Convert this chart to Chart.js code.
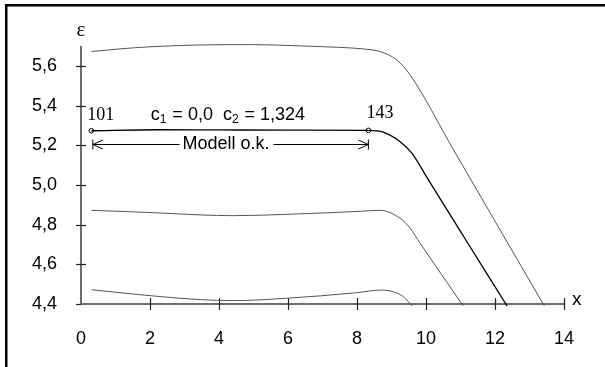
<!DOCTYPE html>
<html>
<head>
<meta charset="utf-8">
<script src="https://cdn.jsdelivr.net/npm/chart.js@4.4.1/dist/chart.umd.min.js"></script>
<style>
  html, body { margin: 0; padding: 0; background: #fff; }
  canvas { display: block; }
</style>
</head>
<body>
<canvas id="chart" width="605" height="367"></canvas>
<script>
'use strict';

// curve values (x, epsilon)
var topX = [0.3, 1.1, 2.0, 3.4, 5.0, 6.4, 7.5, 8.2, 8.67, 9.15, 9.54, 10.8, 13.43];
var topY = [5.672, 5.685, 5.696, 5.705, 5.707, 5.700, 5.693, 5.685, 5.672, 5.630, 5.554, 5.176, 4.39];

var modelX = [0.3, 2.2, 4.0, 6.0, 8.33, 8.76, 9.25, 9.59, 10.07, 11.2, 12.35];
var modelY = [5.273, 5.278, 5.277, 5.276, 5.275, 5.266, 5.218, 5.160, 5.025, 4.71, 4.39];

var midX = [0.3, 2.0, 3.45, 4.41, 6.0, 8.09, 8.67, 9.25, 9.54, 9.83, 11.08];
var midY = [4.872, 4.861, 4.849, 4.845, 4.852, 4.867, 4.872, 4.832, 4.782, 4.706, 4.39];

var lowX = [0.3, 2.0, 3.45, 4.41, 5.96, 7.99, 8.67, 9.05, 9.34, 9.6];
var lowY = [4.472, 4.442, 4.422, 4.417, 4.429, 4.457, 4.470, 4.462, 4.437, 4.39];

// model range end points (101 .. 143)
var markX = [0.3, 8.33];
var markY = [5.273, 5.275];
var markLabels = ['101', '143'];

var xTicks = [0, 2, 4, 6, 8, 10, 12, 14];
var yTicks = [4.4, 4.6, 4.8, 5.0, 5.2, 5.4, 5.6];

var SANS = '"Liberation Sans", Arial, sans-serif';
var SERIF = '"Liberation Serif", "Times New Roman", serif';

function pts(xs, ys) {
    return xs.map((x, i) => ({x: x, y: ys[i]}));
}

function curve(xs, ys, color, width) {
    return {
        data: pts(xs, ys),
        showLine: true,
        borderColor: color,
        borderWidth: width,
        pointRadius: 0,
        cubicInterpolationMode: 'monotone',
        clip: false
    };
}

function line(ctx, x1, y1, x2, y2) {
    ctx.beginPath();
    ctx.moveTo(x1, y1);
    ctx.lineTo(x2, y2);
    ctx.stroke();
}

// axes with crossing tick marks, drawn from the chart's scales
var axesPlugin = {
    id: 'axes',
    beforeDatasetsDraw(chart) {
        var ctx = chart.ctx;
        var xs = chart.scales.x, ys = chart.scales.y;
        var x0 = xs.getPixelForValue(0), y0 = ys.getPixelForValue(4.4);
        ctx.save();
        ctx.strokeStyle = '#6e6e6e';
        ctx.lineWidth = 2;
        line(ctx, x0, ys.getPixelForValue(5.7), x0, y0);
        line(ctx, x0, y0, xs.getPixelForValue(14), y0);
        ctx.strokeStyle = '#222';
        ctx.lineWidth = 1.2;
        yTicks.forEach(v => {
            var p = Math.round(ys.getPixelForValue(v)) + 0.5;
            line(ctx, x0 - 5, p, v === 4.4 ? x0 : x0 + 5, p);
        });
        xTicks.forEach(v => {
            if (v === 0) return;
            var p = Math.round(xs.getPixelForValue(v)) + 0.5;
            line(ctx, p, y0 - 6, p, y0 + 6);
        });
        ctx.restore();
    },
    afterDraw(chart) {
        var ctx = chart.ctx;
        var xs = chart.scales.x, ys = chart.scales.y;
        var X = v => xs.getPixelForValue(v), Y = v => ys.getPixelForValue(v);
        ctx.save();
        ctx.fillStyle = '#000';
        ctx.strokeStyle = '#000';

        // frame
        ctx.fillRect(5, 4, 600, 2.5);
        ctx.fillRect(5, 4, 2.5, 363);

        // axis titles
        ctx.font = '21px ' + SERIF;
        ctx.textAlign = 'center';
        ctx.textBaseline = 'alphabetic';
        ctx.fillText('\u03b5', X(0), 36);
        ctx.font = '19px ' + SANS;
        ctx.textAlign = 'left';
        ctx.fillText('x', X(14) + 8, Y(4.4) + 1);

        // point numbers
        ctx.font = '18px ' + SERIF;
        ctx.fillText(markLabels[0], X(markX[0]) - 4, Y(markY[0]) - 11);
        ctx.fillText(markLabels[1], X(markX[1]) - 2, Y(markY[1]) - 12);

        // c1 = 0,0  c2 = 1,324
        var tx = X(2.02), ty = Y(markY[0]) - 11;
        var parts = [['c', 0], ['1', 1], [' = 0,0  c', 0], ['2', 1], [' = 1,324', 0]];
        parts.forEach(p => {
            ctx.font = (p[1] ? '12px ' : '18px ') + SANS;
            ctx.fillText(p[0], tx, ty + (p[1] ? 3 : 0));
            tx += ctx.measureText(p[0]).width + (p[1] ? 1 : 0);
        });

        // Modell o.k. range arrow
        var ay = Math.round(Y(5.205)) + 0.5;
        var ax1 = X(markX[0]) + 1.5, ax2 = X(markX[1]);
        ctx.font = '18px ' + SANS;
        ctx.textAlign = 'center';
        ctx.textBaseline = 'middle';
        var tw = ctx.measureText('Modell o.k.').width;
        var tc = 226;
        ctx.fillText('Modell o.k.', tc, ay);
        ctx.lineWidth = 1;
        line(ctx, ax1, ay, tc - tw / 2 - 3, ay);
        line(ctx, tc + tw / 2 + 4, ay, ax2, ay);
        line(ctx, ax1, ay - 5, ax1, ay + 5);
        line(ctx, ax2, ay - 5, ax2, ay + 5);
        ctx.beginPath();
        ctx.moveTo(ax1 + 10, ay - 4.5); ctx.lineTo(ax1, ay); ctx.lineTo(ax1 + 10, ay + 4.5);
        ctx.moveTo(ax2 - 10, ay - 4.5); ctx.lineTo(ax2, ay); ctx.lineTo(ax2 - 10, ay + 4.5);
        ctx.stroke();
        ctx.restore();
    }
};

var chart = new Chart(document.getElementById('chart'), {
    type: 'scatter',
    data: {
        datasets: [
            curve(topX, topY, '#555', 1),
            curve(modelX, modelY, '#000', 1.3),
            curve(midX, midY, '#555', 1),
            curve(lowX, lowY, '#555', 1),
            {
                data: pts(markX, markY),
                showLine: false,
                pointRadius: 2.3,
                pointBorderWidth: 1,
                pointBorderColor: '#000',
                pointBackgroundColor: '#fff',
                clip: false
            }
        ]
    },
    options: {
        responsive: false,
        animation: false,
        devicePixelRatio: 1,
        layout: { padding: { left: 0, right: 41, top: 46, bottom: 0 } },
        plugins: { legend: { display: false }, tooltip: { enabled: false } },
        scales: {
            x: {
                type: 'linear',
                min: 0,
                max: 14,
                grid: { display: false },
                border: { display: false },
                afterBuildTicks: s => { s.ticks = xTicks.map(v => ({value: v})); },
                afterFit: s => { s.height = 63; },
                ticks: {
                    padding: 16,
                    color: '#000',
                    font: { family: SANS, size: 18 },
                    callback: v => String(v)
                }
            },
            y: {
                type: 'linear',
                min: 4.4,
                max: 5.7,
                grid: { display: false },
                border: { display: false },
                afterBuildTicks: s => { s.ticks = yTicks.map(v => ({value: v})); },
                afterFit: s => { s.width = 81; },
                ticks: {
                    padding: 16,
                    color: '#000',
                    font: { family: SANS, size: 18 },
                    callback: v => v.toFixed(1).replace('.', ',')
                }
            }
        }
    },
    plugins: [axesPlugin]
});
</script>
</body>
</html>
